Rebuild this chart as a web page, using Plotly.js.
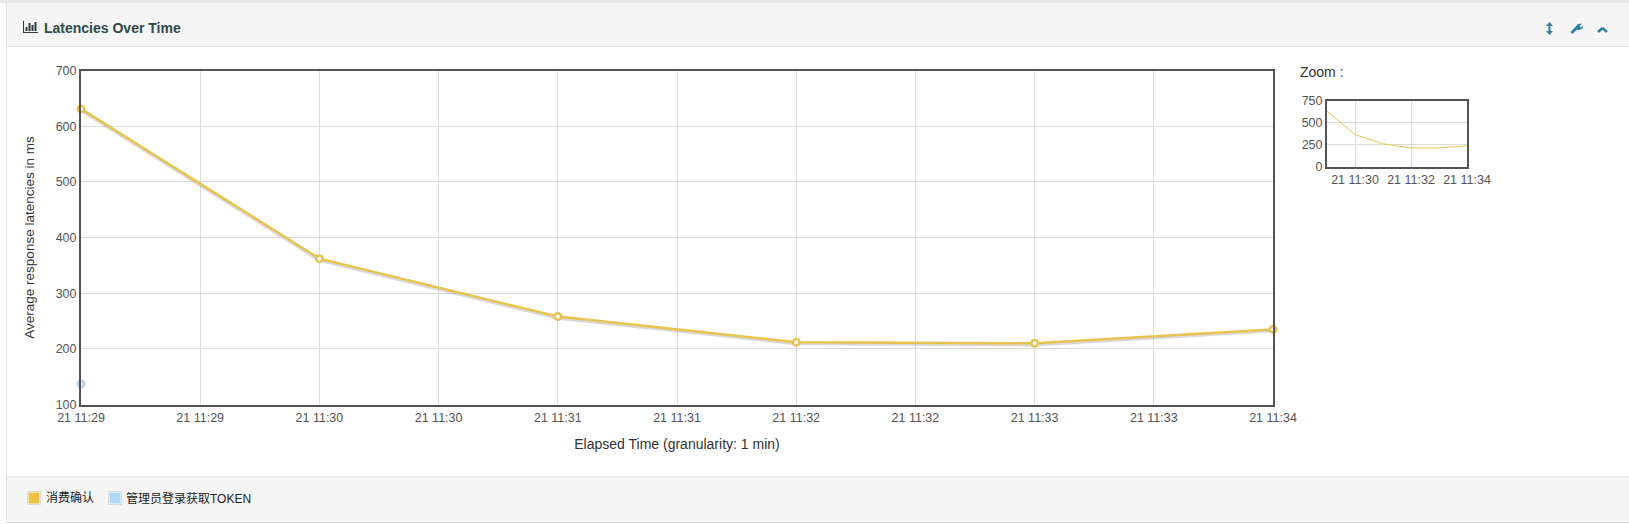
<!DOCTYPE html>
<html>
<head>
<meta charset="utf-8">
<script src="https://cdn.plot.ly/plotly-3.0.1.min.js"></script>
<style>html,body{margin:0;padding:0;background:#fff;overflow:hidden}#chart{width:1629px;height:524px}</style>
</head>
<body>
<div id="chart"></div>
<script>
const seriesTimes = ['2021-01-21 11:29:00','2021-01-21 11:30:00','2021-01-21 11:31:00','2021-01-21 11:32:00','2021-01-21 11:33:00','2021-01-21 11:34:00'];
const confirmValues = [631, 362, 258, 212, 210, 235];
const tokenTimes = ['2021-01-21 11:29:00'];
const tokenValues = [137];
const mainTickVals = ['2021-01-21 11:29:00','2021-01-21 11:29:30','2021-01-21 11:30:00','2021-01-21 11:30:30','2021-01-21 11:31:00','2021-01-21 11:31:30','2021-01-21 11:32:00','2021-01-21 11:32:30','2021-01-21 11:33:00','2021-01-21 11:33:30','2021-01-21 11:34:00'];
const mainTickText = ['21 11:29','21 11:29','21 11:30','21 11:30','21 11:31','21 11:31','21 11:32','21 11:32','21 11:33','21 11:33','21 11:34'];
const zoomTickVals = ['2021-01-21 11:30:00','2021-01-21 11:32:00','2021-01-21 11:34:00'];
const zoomTickText = ['21 11:30','21 11:32','21 11:34'];
const mainYTicks = [100,200,300,400,500,600,700];
const zoomYTicks = [0,250,500,750];
const seriesNames = ['消费确认','管理员登录获取TOKEN'];
const seriesColors = ['#e8c350','#afd8f8'];

const W = 1629, H = 524;
const fx = p => p / W, fy = p => 1 - p / H;
const FONT = '"Liberation Sans", "Noto Sans CJK SC", sans-serif';
const INK = '#545454';
const ICON = '#2f7fa5';
const xRange = [seriesTimes[0], seriesTimes[5]];

function rect(x0,y0,x1,y1,fill,line,w){
  return {type:'rect',xref:'paper',yref:'paper',layer:'below',x0:fx(x0),x1:fx(x1),y0:fy(y0),y1:fy(y1),
    fillcolor:fill,line:{color:line||fill,width:w===undefined?0:w}};
}
function seg(x0,y0,x1,y1,color,w){
  return {type:'line',xref:'paper',yref:'paper',layer:'below',x0:fx(x0),x1:fx(x1),y0:fy(y0),y1:fy(y1),line:{color:color,width:w}};
}
function poly(points,fill){
  const d = points.map((p,i)=>(i?'L':'M')+fx(p[0])+','+fy(p[1])).join('')+'Z';
  return {type:'path',xref:'paper',yref:'paper',layer:'below',fillcolor:fill,line:{width:0},path:d};
}
function text(str,x,y,size,color,opts){
  return Object.assign({text:str,xref:'paper',yref:'paper',x:fx(x),y:fy(y),xanchor:'left',yanchor:'middle',showarrow:false,
    font:{family:FONT,size:size,color:color}},opts||{});
}

const shapes = [
  rect(0,0,W,3,'#e9e9e9'),
  rect(7,3,W,46,'#f5f5f5'),
  seg(7,46.5,W,46.5,'#e3e3e3',1),
  rect(7,477,W,522,'#f5f5f5'),
  seg(7,477,W,477,'#e0e0e0',1),
  seg(7,522.5,W,522.5,'#e0e0e0',1),
  seg(6.5,3,6.5,523,'#e3e3e3',1),
  // panel title icon
  seg(23.5,21,23.5,33,'#2c3e3e',1), seg(23,32.5,38,32.5,'#2c3e3e',1),
  seg(26.5,27,26.5,31,'#2c3e3e',2), seg(29.5,23,29.5,31,'#2c3e3e',2), seg(32.5,25,32.5,31,'#2c3e3e',2), seg(35.5,22,35.5,31,'#2c3e3e',2),
  // resize arrow
  seg(1549.5,25,1549.5,32,ICON,2),
  poly([[1546,26],[1553,26],[1549.5,22]],ICON),
  poly([[1546,31],[1553,31],[1549.5,35]],ICON),
  // wrench
  seg(1571.5,33,1577,27.5,ICON,3),
  poly([[1575.5,27],[1578,24],[1582,23.5],[1579.5,26],[1581,27.5],[1583,25.5],[1582.5,28.5],[1579,30],[1576.5,29.5]],ICON),
  // chevron
  seg(1598,32,1602.5,28,ICON,2.5), seg(1602.5,28,1607,32,ICON,2.5),
  // legend swatches
  rect(27.5,491.5,40.5,504.5,'#ffffff','#d8d8d8',1),
  rect(28.5,492.5,39.5,503.5,'#edc240'),
  rect(108.5,491.5,121.5,504.5,'#ffffff','#d8d8d8',1),
  rect(109.5,492.5,120.5,503.5,seriesColors[1])
];

const annotations = [
  text('Latencies Over Time',42,27.5,14,'#2c4a48',{font:{family:FONT,size:14,color:'#2c4a48',weight:700}}),
  text('Zoom :',1298,72,14,'#333333'),
  text(seriesNames[0],44,498,12,'#222222'),
  text(seriesNames[1],124,498,12,'#222222')
];

const traces = [
  {x:seriesTimes,y:confirmValues.map(v=>v-3),mode:'lines',line:{color:'rgba(120,120,120,0.28)',width:3},hoverinfo:'skip',showlegend:false,xaxis:'x',yaxis:'y'},
  {x:seriesTimes,y:confirmValues,name:seriesNames[0],mode:'lines+markers',cliponaxis:false,line:{color:seriesColors[0],width:2.5},
   marker:{color:'#ffffff',size:6.5,line:{color:seriesColors[0],width:2.5}},xaxis:'x',yaxis:'y'},
  {x:tokenTimes,y:tokenValues,name:seriesNames[1],mode:'markers',cliponaxis:false,
   marker:{color:'#ffffff',size:6,line:{color:seriesColors[1],width:3}},xaxis:'x',yaxis:'y'},
  {x:seriesTimes,y:confirmValues,name:seriesNames[0],mode:'lines',line:{color:seriesColors[0],width:1},showlegend:false,xaxis:'x2',yaxis:'y2'},
  {x:tokenTimes,y:tokenValues,name:seriesNames[1],mode:'markers',marker:{color:seriesColors[1],size:1},showlegend:false,xaxis:'x2',yaxis:'y2'}
];

const axisBase = {showline:true,mirror:true,linecolor:INK,linewidth:2,gridcolor:'#dcdcdc',gridwidth:1,ticks:'',zeroline:false,automargin:false,
  tickfont:{family:FONT,size:12.5,color:INK}};

const layout = {
  width:W,height:H,margin:{l:0,r:0,t:0,b:0},paper_bgcolor:'#ffffff',plot_bgcolor:'rgba(0,0,0,0)',showlegend:false,
  font:{family:FONT},
  xaxis:Object.assign({},axisBase,{type:'date',domain:[fx(81),fx(1273)],range:xRange,tickmode:'array',tickvals:mainTickVals,ticktext:mainTickText,tickangle:0,anchor:'y',
    title:{text:'Elapsed Time (granularity: 1 min)',font:{family:FONT,size:14,color:'#333333'},standoff:16}}),
  yaxis:Object.assign({},axisBase,{domain:[fy(404.5),fy(70.5)],range:[100,700],tickmode:'array',tickvals:mainYTicks,anchor:'x',
    title:{text:'Average response latencies in ms',font:{family:FONT,size:13.5,color:'#333333'},standoff:18}}),
  xaxis2:Object.assign({},axisBase,{type:'date',domain:[fx(1327),fx(1467)],range:xRange,tickmode:'array',tickvals:zoomTickVals,ticktext:zoomTickText,tickangle:0,anchor:'y2'}),
  yaxis2:Object.assign({},axisBase,{domain:[fy(166.5),fy(100.5)],range:[0,750],tickmode:'array',tickvals:zoomYTicks,anchor:'x2'}),
  shapes:shapes,annotations:annotations
};
Plotly.newPlot('chart',traces,layout,{displayModeBar:false,staticPlot:true});
</script>
</body>
</html>
